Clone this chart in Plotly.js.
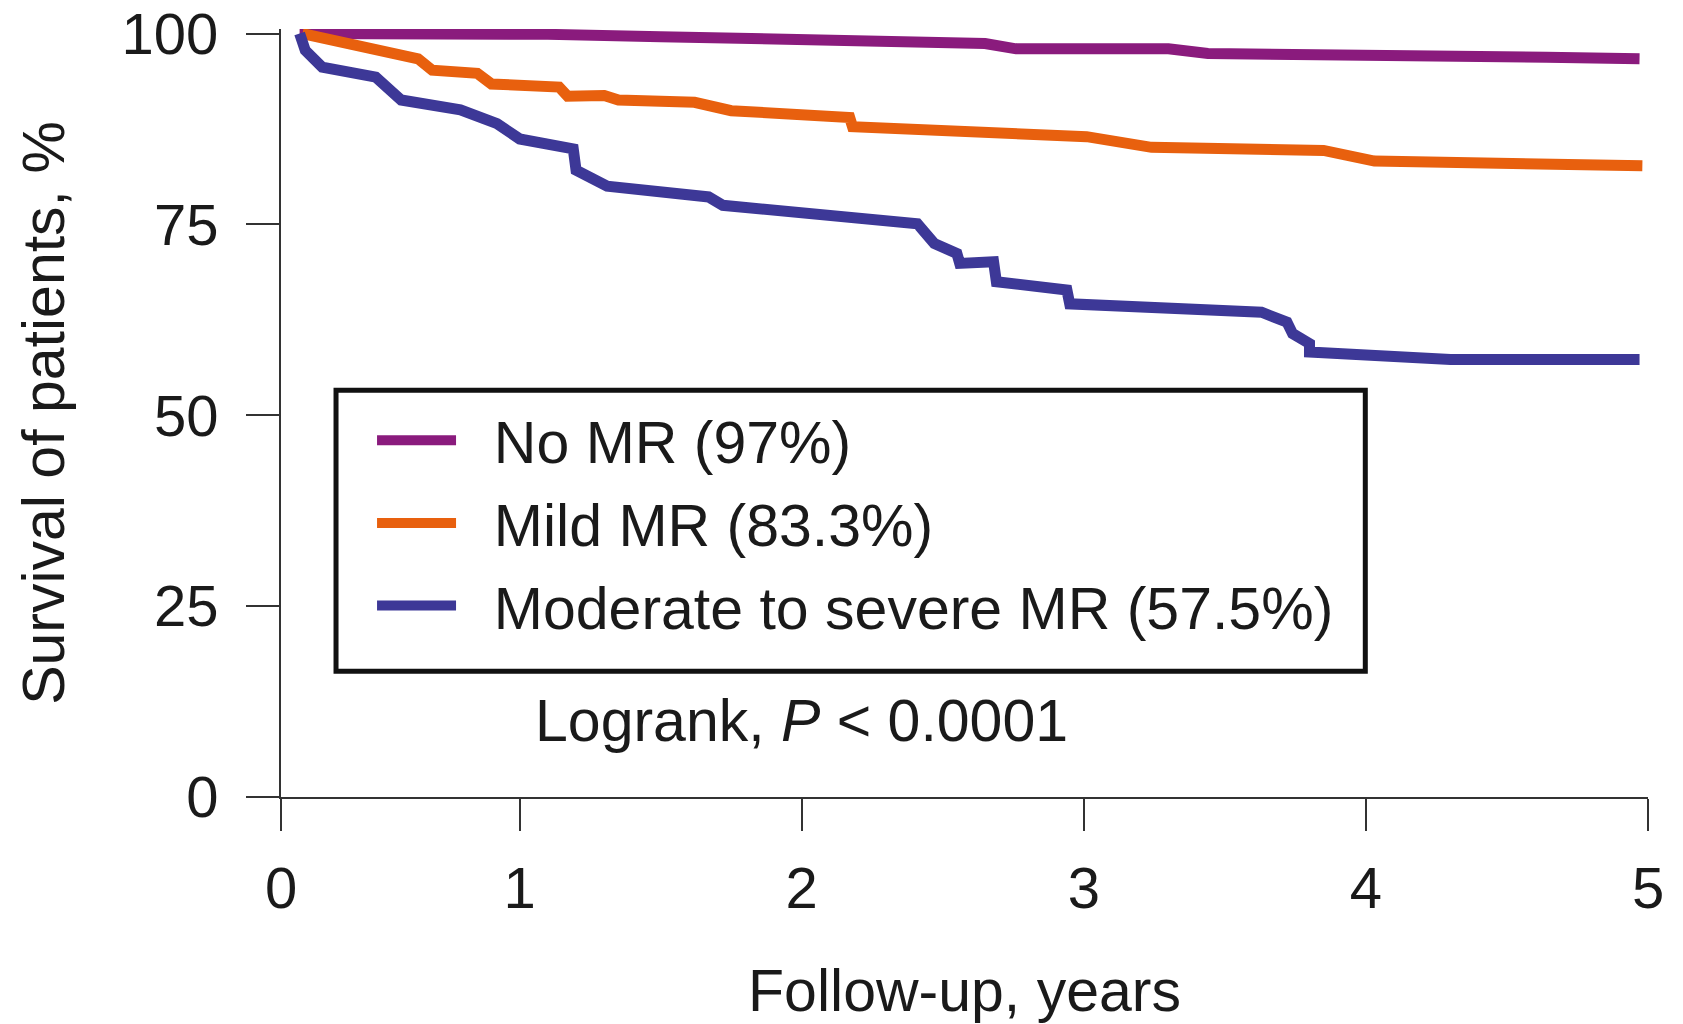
<!DOCTYPE html>
<html>
<head>
<meta charset="utf-8">
<script src="https://cdn.plot.ly/plotly-3.0.1.min.js"></script>
<style>
  html, body { margin: 0; padding: 0; background: #ffffff; }
  #chart { width: 1683px; height: 1024px; }
</style>
</head>
<body>
<div id="chart"></div>
<script>
// ---- Data ----
const seriesNames = ['No MR (97%)', 'Mild MR (83.3%)', 'Moderate to severe MR (57.5%)'];
const seriesColors = ['#8a1b7d', '#e8600e', '#3d3897'];

const noMRYears = [0.22, 0.50, 0.75, 1.10, 1.50, 1.92, 2.30, 2.65, 2.76, 3.06, 3.30, 3.44, 3.98, 4.64, 4.97];
const noMRSurv  = [100, 100, 100, 99.9, 99.6, 99.3, 99.1, 98.7, 98.0, 98.0, 98.0, 97.4, 97.3, 96.9, 96.7];

const mildYears = [0.23, 0.64, 0.69, 0.85, 0.90, 1.14, 1.17, 1.30, 1.35, 1.62, 1.75, 2.17, 2.18, 3.01, 3.24, 3.85, 4.03, 4.64, 4.98];
const mildSurv  = [100, 96.7, 95.2, 94.8, 93.4, 93.0, 91.8, 91.9, 91.3, 91.0, 89.9, 89.0, 87.8, 86.5, 85.1, 84.7, 83.3, 82.8, 82.7];

const severeYears = [0.22, 0.24, 0.30, 0.49, 0.58, 0.79, 0.92, 1.00, 1.19, 1.20, 1.31, 1.67, 1.72, 2.41, 2.47, 2.55, 2.56, 2.68, 2.69, 2.94, 2.95, 3.24, 3.63, 3.72, 3.74, 3.80, 3.80, 4.30, 4.97];
const severeSurv  = [100, 97.8, 95.6, 94.3, 91.3, 90.0, 88.2, 86.2, 84.9, 82.1, 80.0, 78.6, 77.5, 75.1, 72.5, 71.2, 69.9, 70.1, 67.5, 66.4, 64.6, 64.0, 63.5, 62.2, 60.7, 59.4, 58.3, 57.3, 57.3];

const xTickVals = [0.154, 1, 2, 3, 4, 5];
const xTickText = ['0', '1', '2', '3', '4', '5'];
const yTickVals = [0, 25, 50, 75, 100];
const yTickText = ['0', '25', '50', '75', '100'];

const xTitle = 'Follow-up, years';
const yTitle = 'Survival of patients, %';
const pText = 'Logrank, <i>P</i> &lt; 0.0001';

// ---- Chart ----
const NBSP = '\u00A0';
const xs = [noMRYears, mildYears, severeYears];
const ys = [noMRSurv, mildSurv, severeSurv];
const traces = xs.map((x, i) => ({
  type: 'scatter',
  mode: 'lines',
  x: x,
  y: ys[i],
  name: NBSP + NBSP + seriesNames[i],
  legendgroup: 'g' + i,
  line: { color: seriesColors[i], width: 11, shape: 'linear' },
  hoverinfo: 'x+y+name'
}));

const axisColor = '#333333';
const tickFont = { size: 58, color: '#1a1a1a' };
const layout = {
  width: 1683,
  height: 1024,
  margin: { l: 281, r: 35.4, t: 28.7, b: 227.3, pad: 0 },
  paper_bgcolor: '#ffffff',
  plot_bgcolor: '#ffffff',
  font: { family: 'Liberation Sans, Arial, Helvetica, sans-serif', size: 59, color: '#1a1a1a' },
  showlegend: true,
  xaxis: {
    range: [0.154, 5],
    tickmode: 'array',
    tickvals: xTickVals,
    ticktext: xTickText,
    tickfont: tickFont,
    ticks: 'outside',
    ticklen: 32,
    tickwidth: 2,
    tickcolor: axisColor,
    showline: true,
    linecolor: axisColor,
    linewidth: 2,
    showgrid: false,
    zeroline: false,
    ticklabelstandoff: 7,
    automargin: false,
    title: { text: xTitle, standoff: 53, font: { size: 59 } }
  },
  yaxis: {
    range: [0, 100.6],
    tickmode: 'array',
    tickvals: yTickVals,
    ticktext: yTickText,
    tickfont: tickFont,
    ticks: 'outside',
    ticklen: 33,
    tickwidth: 2,
    tickcolor: axisColor,
    showline: true,
    linecolor: axisColor,
    linewidth: 2,
    showgrid: false,
    zeroline: false,
    ticklabelstandoff: 16,
    automargin: false,
    title: { text: yTitle, standoff: 38, font: { size: 59 } }
  },
  legend: {
    x: 0.0666,
    y: 0.5230,
    xanchor: 'left',
    yanchor: 'top',
    bgcolor: 'rgba(0,0,0,0)',
    borderwidth: 0,
    font: { size: 59, color: '#1a1a1a' },
    itemwidth: 79,
    tracegroupgap: 3
  },
  shapes: [{
    type: 'rect',
    xref: 'paper',
    yref: 'paper',
    x0: 0.04025,
    x1: 0.7932,
    y0: 0.1637,
    y1: 0.5296,
    line: { color: '#111111', width: 5 },
    fillcolor: 'rgba(0,0,0,0)',
    layer: 'above'
  }],
  annotations: [{
    x: 2.0,
    y: 10.0,
    xref: 'x',
    yref: 'y',
    text: pText,
    showarrow: false,
    xanchor: 'center',
    yanchor: 'middle',
    font: { size: 59, color: '#1a1a1a' }
  }]
};

Plotly.newPlot('chart', traces, layout, { displayModeBar: false, staticPlot: true });
</script>
</body>
</html>
